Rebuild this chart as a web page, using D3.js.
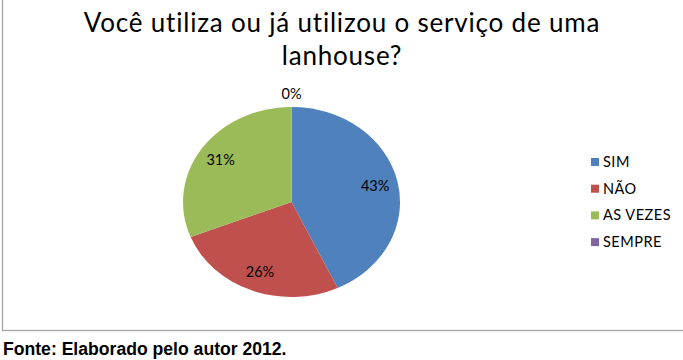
<!DOCTYPE html>
<html>
<head>
<meta charset="utf-8">
<script src="https://cdn.jsdelivr.net/npm/d3@7"></script>
<style>
  body { margin: 0; background: #fff; }
  svg { display: block; }
</style>
</head>
<body>
<div id="chart"></div>
<script>
const titleLines = ["Você utiliza ou já utilizou o serviço de uma", "lanhouse?"];
const categories = ["SIM", "NÃO", "AS VEZES", "SEMPRE"];
const values = [43, 26, 31, 0];
const colors = ["#4F81BD", "#C0504D", "#9BBB59", "#8064A2"];
const source = "Fonte: Elaborado pelo autor 2012.";

const width = 683, height = 360;
const cx = 291.5, cy = 202, rx = 108.5, ry = 95;

const svg = d3.select("#chart")
  .append("svg")
  .attr("width", width)
  .attr("height", height);

// chart frame (only left and bottom edges are inside the picture)
svg.append("rect")
  .attr("x", 2.5)
  .attr("y", -10)
  .attr("width", 720)
  .attr("height", 340.5)
  .attr("fill", "none")
  .attr("stroke", "#a6a6a6")
  .attr("stroke-width", 1.3);

// title
svg.append("text")
  .attr("x", 342)
  .attr("y", 32)
  .attr("text-anchor", "middle")
  .style("font-family", "Lato, 'Open Sans', sans-serif")
  .style("font-size", "26px")
  .style("letter-spacing", "0.8px")
  .style("fill", "#000")
  .selectAll("tspan")
  .data(titleLines)
  .join("tspan")
  .attr("x", 342)
  .attr("dy", (d, i) => i === 0 ? 0 : 33)
  .text(d => d);

// pie (drawn on unit circle then stretched to the ellipse)
const pie = d3.pie().sort(null).value(d => d);
const arcs = pie(values);
const arc = d3.arc().innerRadius(0).outerRadius(ry);

const g = svg.append("g")
  .attr("transform", `translate(${cx},${cy}) scale(${rx / ry},1)`);

g.selectAll("path")
  .data(arcs)
  .join("path")
  .attr("d", arc)
  .attr("fill", (d, i) => colors[i]);

// labels
function labelPos(d) {
  const a = (d.startAngle + d.endAngle) / 2;
  const f = d.value === 0 ? 1 + 13 / ry : 0.79;
  return [cx + Math.sin(a) * rx * f, cy - Math.cos(a) * ry * f];
}

svg.append("g")
  .selectAll("text")
  .data(arcs)
  .join("text")
  .attr("x", d => labelPos(d)[0])
  .attr("y", d => labelPos(d)[1])
  .attr("dy", "0.35em")
  .attr("text-anchor", "middle")
  .style("font-family", "Lato, 'Open Sans', sans-serif")
  .style("font-size", "14.5px")
  .style("fill", "#000")
  .text(d => d3.format(".0%")(d.value / d3.sum(values)));

// legend
const legend = svg.append("g")
  .attr("transform", "translate(591,162)");

const rows = legend.selectAll("g")
  .data(categories)
  .join("g")
  .attr("transform", (d, i) => `translate(0,${i * 26.7})`);

rows.append("rect")
  .attr("x", 0)
  .attr("y", -4)
  .attr("width", 8)
  .attr("height", 8)
  .attr("fill", (d, i) => colors[i]);

rows.append("text")
  .attr("x", 12)
  .attr("y", 0)
  .attr("dy", "0.35em")
  .style("font-family", "Lato, 'Open Sans', sans-serif")
  .style("font-size", "14.5px")
  .style("letter-spacing", "0.5px")
  .style("fill", "#000")
  .text(d => d);

// source line
svg.append("text")
  .attr("x", 3)
  .attr("y", 355)
  .style("font-family", "'Liberation Sans', Arial, sans-serif")
  .style("font-weight", "bold")
  .style("font-size", "17.6px")
  .style("fill", "#000")
  .text(source);
</script>
</body>
</html>
